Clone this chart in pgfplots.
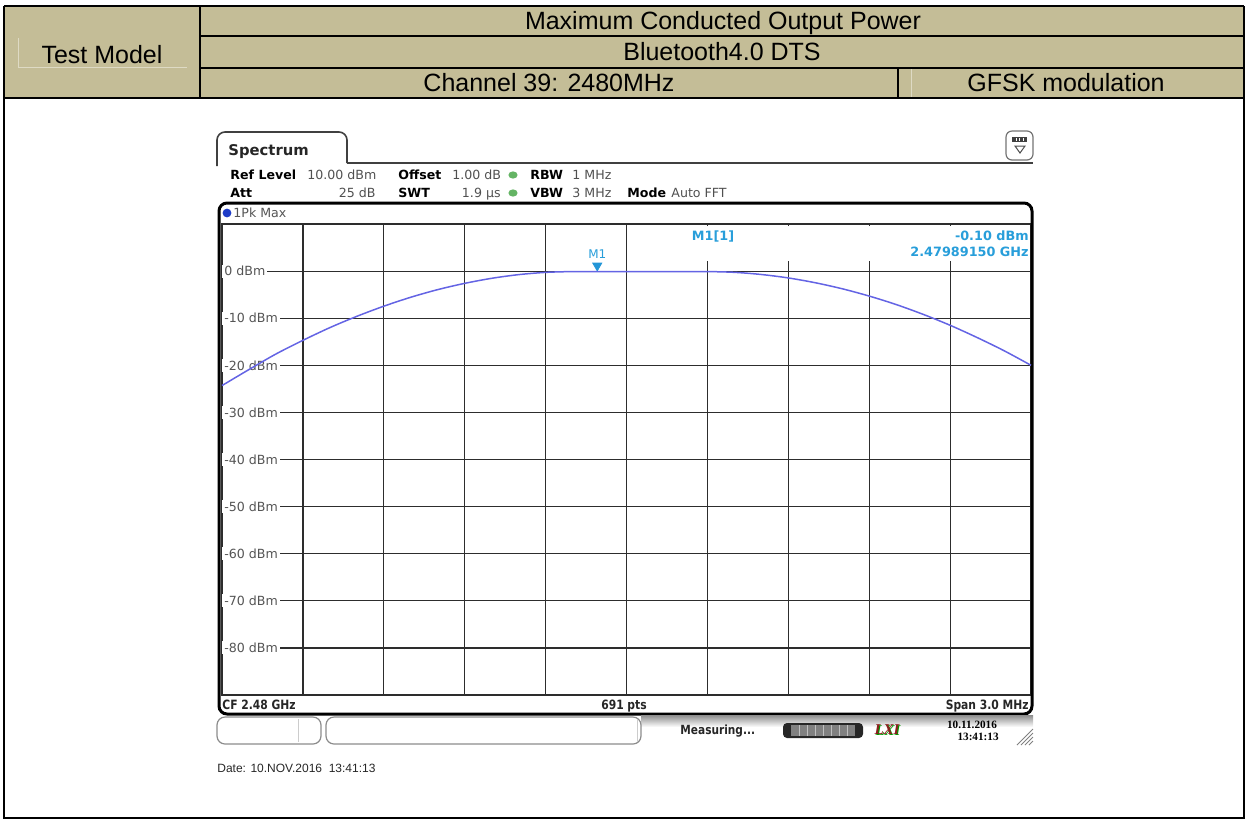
\documentclass[border=0pt]{standalone}
\usepackage{pgfplots}
\pgfplotsset{compat=1.18}
\usepackage{fontspec}
\setmainfont{Liberation Sans}
\newfontfamily\dv{DejaVu Sans}
\newfontfamily\dvc[FakeStretch=0.84]{DejaVu Sans}
\newfontfamily\lser{Liberation Serif}
\definecolor{tanc}{RGB}{196,189,151}
\definecolor{faint}{RGB}{222,218,196}
\definecolor{gridc}{RGB}{45,45,45}
\definecolor{labc}{RGB}{85,85,85}
\definecolor{valc}{RGB}{80,80,80}
\definecolor{tracec}{RGB}{100,100,228}
\definecolor{mkc}{RGB}{35,150,215}
\definecolor{mtxt}{RGB}{40,158,218}
\definecolor{dotg}{RGB}{100,180,100}
\definecolor{dotb}{RGB}{30,60,200}
\begin{document}
\begin{tikzpicture}
\begin{scope}[x=0.5pt,y=-0.5pt]
\useasboundingbox (0,0) rectangle (1247,821);
% ---------- header table ----------
\fill[tanc] (4,6) rectangle (1244,98);
\draw[faint, line width=0.5pt] (18,38) -- (18,67) -- (187,67);
\draw[faint, line width=0.5pt] (911,68) -- (911,98);
\draw[line width=1pt] (4,6) -- (1244,6);
\draw[line width=1pt] (4,6) -- (4,818) -- (1244,818) -- (1244,6);
\draw[line width=1pt] (4,98) -- (1244,98);
\draw[line width=1pt] (200,6) -- (200,98);
\draw[line width=1pt] (200,36) -- (1244,36);
\draw[line width=1pt] (200,68) -- (1244,68);
\draw[line width=1pt] (898,68) -- (898,98);
\begin{scope}[every node/.style={font=\fontsize{12.5}{14}\selectfont, anchor=base, inner sep=0pt}]
\node at (102,63) {Test Model};
\node at (723,29) {Maximum Conducted Output Power};
\node at (722,60) {Bluetooth4.0 DTS};
\node at (549,91) {Channel 39: 2480MHz};
\node at (1066,91) {GFSK modulation};
\end{scope}
\end{scope}
% ---------- spectrum plot ----------
\begin{axis}[
  at={(111pt,-347.5pt)}, anchor=south west,
  scale only axis, width=404.5pt, height=235.5pt,
  xmin=-1.5, xmax=1.5, ymin=-90, ymax=10,
  xtick={-1.2,-0.9,-0.6,-0.3,0,0.3,0.6,0.9,1.2}, xticklabels={},
  ytick={-80,-70,-60,-50,-40,-30,-20,-10,0},
  yticklabels={-80 dBm,-70 dBm,-60 dBm,-50 dBm,-40 dBm,-30 dBm,-20 dBm,-10 dBm,0 dBm},
  major tick length=0pt,
  grid=major, grid style={line width=0.6pt, color=gridc},
  axis line style={line width=0.6pt, color=gridc},
  yticklabel style={anchor=west, fill=white, inner xsep=1pt, inner ysep=0.8pt,
     font=\dv\fontsize{6.3}{7}\selectfont, text=labc},
  set layers,
]
\addplot[color=tracec, line width=0.75pt, smooth, on layer=axis foreground] coordinates {
(-1.5,-24.3) (-1.4,-20.9) (-1.3,-17.6) (-1.2,-14.7) (-1.1,-12.0) (-1.0,-9.6)
(-0.9,-7.45) (-0.8,-5.55) (-0.7,-3.93) (-0.6,-2.6) (-0.5,-1.53) (-0.4,-0.75)
(-0.3,-0.27) (-0.2,-0.1) (-0.108,-0.1) (0,-0.1) (0.1,-0.1) (0.2,-0.1) (0.3,-0.1)
(0.4,-0.26) (0.5,-0.72) (0.6,-1.45) (0.7,-2.47) (0.8,-3.75) (0.9,-5.3)
(1.0,-7.1) (1.1,-9.18) (1.2,-11.5) (1.3,-14.1) (1.4,-16.9) (1.5,-20.0)
};
\addplot[only marks, mark=triangle*, mark size=2.6pt, on layer=axis foreground,
  mark options={rotate=180, fill=mkc, draw=mkc}] coordinates {(-0.1085,1.15)};
\node[font=\dv\fontsize{6}{7}\selectfont, text=mtxt] at (axis cs:-0.1085,3.5) {M1};
\end{axis}
\begin{scope}[x=0.5pt,y=-0.5pt]
% mask in marker info area
\fill[white] (689,225.5) rectangle (1030,261);
\node[font=\dv\bfseries\fontsize{6.4}{7}\selectfont, text=mtxt, anchor=base] at (713,240) {M1[1]};
\node[font=\dv\bfseries\fontsize{6.4}{7}\selectfont, text=mtxt, anchor=base east, inner sep=0pt] at (1029,240) {-0.10 dBm};
\node[font=\dv\bfseries\fontsize{6.4}{7}\selectfont, text=mtxt, anchor=base east, inner sep=0pt] at (1029,256) {2.47989150 GHz};
% frame
\draw[line width=1.5pt, rounded corners=4pt] (219,203) rectangle (1032,714);
% 1Pk Max
\fill[dotb] (227,213) circle (4.4);
\node[font=\dv\fontsize{6.3}{7}\selectfont, text=labc, anchor=base west, inner sep=0pt] at (233,217.5) {1Pk Max};
% bottom row
\begin{scope}[every node/.style={font=\dvc\bfseries\fontsize{6.4}{7}\selectfont, text=black!85, inner sep=0pt}]
\node[anchor=base west] at (222,709) {CF 2.48 GHz};
\node[anchor=base] at (624,709) {691 pts};
\node[anchor=base east] at (1029,709) {Span 3.0 MHz};
\end{scope}
% tab
\draw[line width=0.8pt, color=black!75, rounded corners=4pt] (217,166) -- (217,132) -- (347,132) -- (347,163);
\draw[line width=0.8pt, color=black!75] (347,163) -- (1033,163);
\node[font=\dv\bfseries\fontsize{7.4}{8}\selectfont, text=black!85, anchor=base west, inner sep=0pt] at (228,155) {Spectrum};
% icon
\draw[line width=0.6pt, color=black!55, rounded corners=3pt] (1006,131) rectangle (1033,160);
\fill[black!75] (1012,137) rectangle (1027,142);
\foreach \i in {1016,1019.5,1023} \draw[white, line width=0.4pt] (\i,138) -- (\i,141);
\draw[line width=0.5pt, color=black!70] (1015,146) -- (1025,146) -- (1020,153) -- cycle;
% info rows
\begin{scope}[every node/.style={inner sep=0pt, font=\dv\fontsize{6.3}{7}\selectfont}]
\node[anchor=base west, font=\dv\bfseries\fontsize{6.3}{7}\selectfont] at (230,179) {Ref Level};
\node[anchor=base west, text=valc] at (307,179) {10.00 dBm};
\node[anchor=base west, font=\dv\bfseries\fontsize{6.3}{7}\selectfont] at (398,179) {Offset};
\node[anchor=base west, text=valc] at (452,179) {1.00 dB};
\node[anchor=base west, font=\dv\bfseries\fontsize{6.3}{7}\selectfont] at (530,179) {RBW};
\node[anchor=base west, text=valc] at (572,179) {1 MHz};
\node[anchor=base west, font=\dv\bfseries\fontsize{6.3}{7}\selectfont] at (230,197) {Att};
\node[anchor=base east, text=valc] at (376,197) {25 dB};
\node[anchor=base west, font=\dv\bfseries\fontsize{6.3}{7}\selectfont] at (398,197) {SWT};
\node[anchor=base east, text=valc] at (501,197) {1.9 µs};
\node[anchor=base west, font=\dv\bfseries\fontsize{6.3}{7}\selectfont] at (530,197) {VBW};
\node[anchor=base west, text=valc] at (572,197) {3 MHz};
\node[anchor=base west, font=\dv\bfseries\fontsize{6.3}{7}\selectfont] at (627,197) {Mode};
\node[anchor=base west, text=valc] at (671,197) {Auto FFT};
\end{scope}
\fill[dotg] (513,175) ellipse (4.6 and 3.6);
\fill[dotg] (513,193) ellipse (4.6 and 3.6);
% status bar
\shade[top color=black!45, bottom color=white] (641,715) rectangle (1033,727);
\draw[line width=0.6pt, color=black!45, fill=white, rounded corners=4pt] (217,717) rectangle (321,744);
\draw[line width=0.4pt, color=black!20] (298,719) -- (298,742);
\draw[line width=0.6pt, color=black!45, fill=white, rounded corners=4pt] (326,717) rectangle (641,744);
\draw[line width=0.4pt, color=black!20] (637,719) -- (637,742);
\node[font=\dvc\bfseries\fontsize{6.3}{7}\selectfont, text=black!85, anchor=base west, inner sep=0pt] at (680,734) {Measuring...};
\fill[black!85, rounded corners=2pt] (783,723) rectangle (863,738);
\fill[black!50] (791,725) rectangle (855,736);
\foreach \i in {799,807,...,847} \draw[black!25, line width=0.5pt] (\i,725) -- (\i,736);
\node[font=\lser\bfseries\itshape\fontsize{7.5}{8}\selectfont, text=green!60!black, inner sep=0pt] at (888,731) {LXI};
\node[font=\lser\bfseries\itshape\fontsize{7.5}{8}\selectfont, text={rgb,255:red,140;green,30;blue,30}, inner sep=0pt] at (887,730) {LXI};
\node[font=\lser\bfseries\fontsize{5.6}{6}\selectfont, anchor=base, inner sep=0pt] at (972,728) {10.11.2016};
\node[font=\lser\bfseries\fontsize{5.6}{6}\selectfont, anchor=base east, inner sep=0pt] at (999,740) {13:41:13};
\foreach \i in {0,4,8,12} \draw[black!50, line width=0.4pt] (1017+\i,745) -- (1033,745-16+\i);
% date
\node[font=\fontsize{6}{7}\selectfont, text=black!85, anchor=base west, inner sep=0pt] at (217,772) {Date: 10.NOV.2016\ \ 13:41:13};
\end{scope}
\end{tikzpicture}
\end{document}
